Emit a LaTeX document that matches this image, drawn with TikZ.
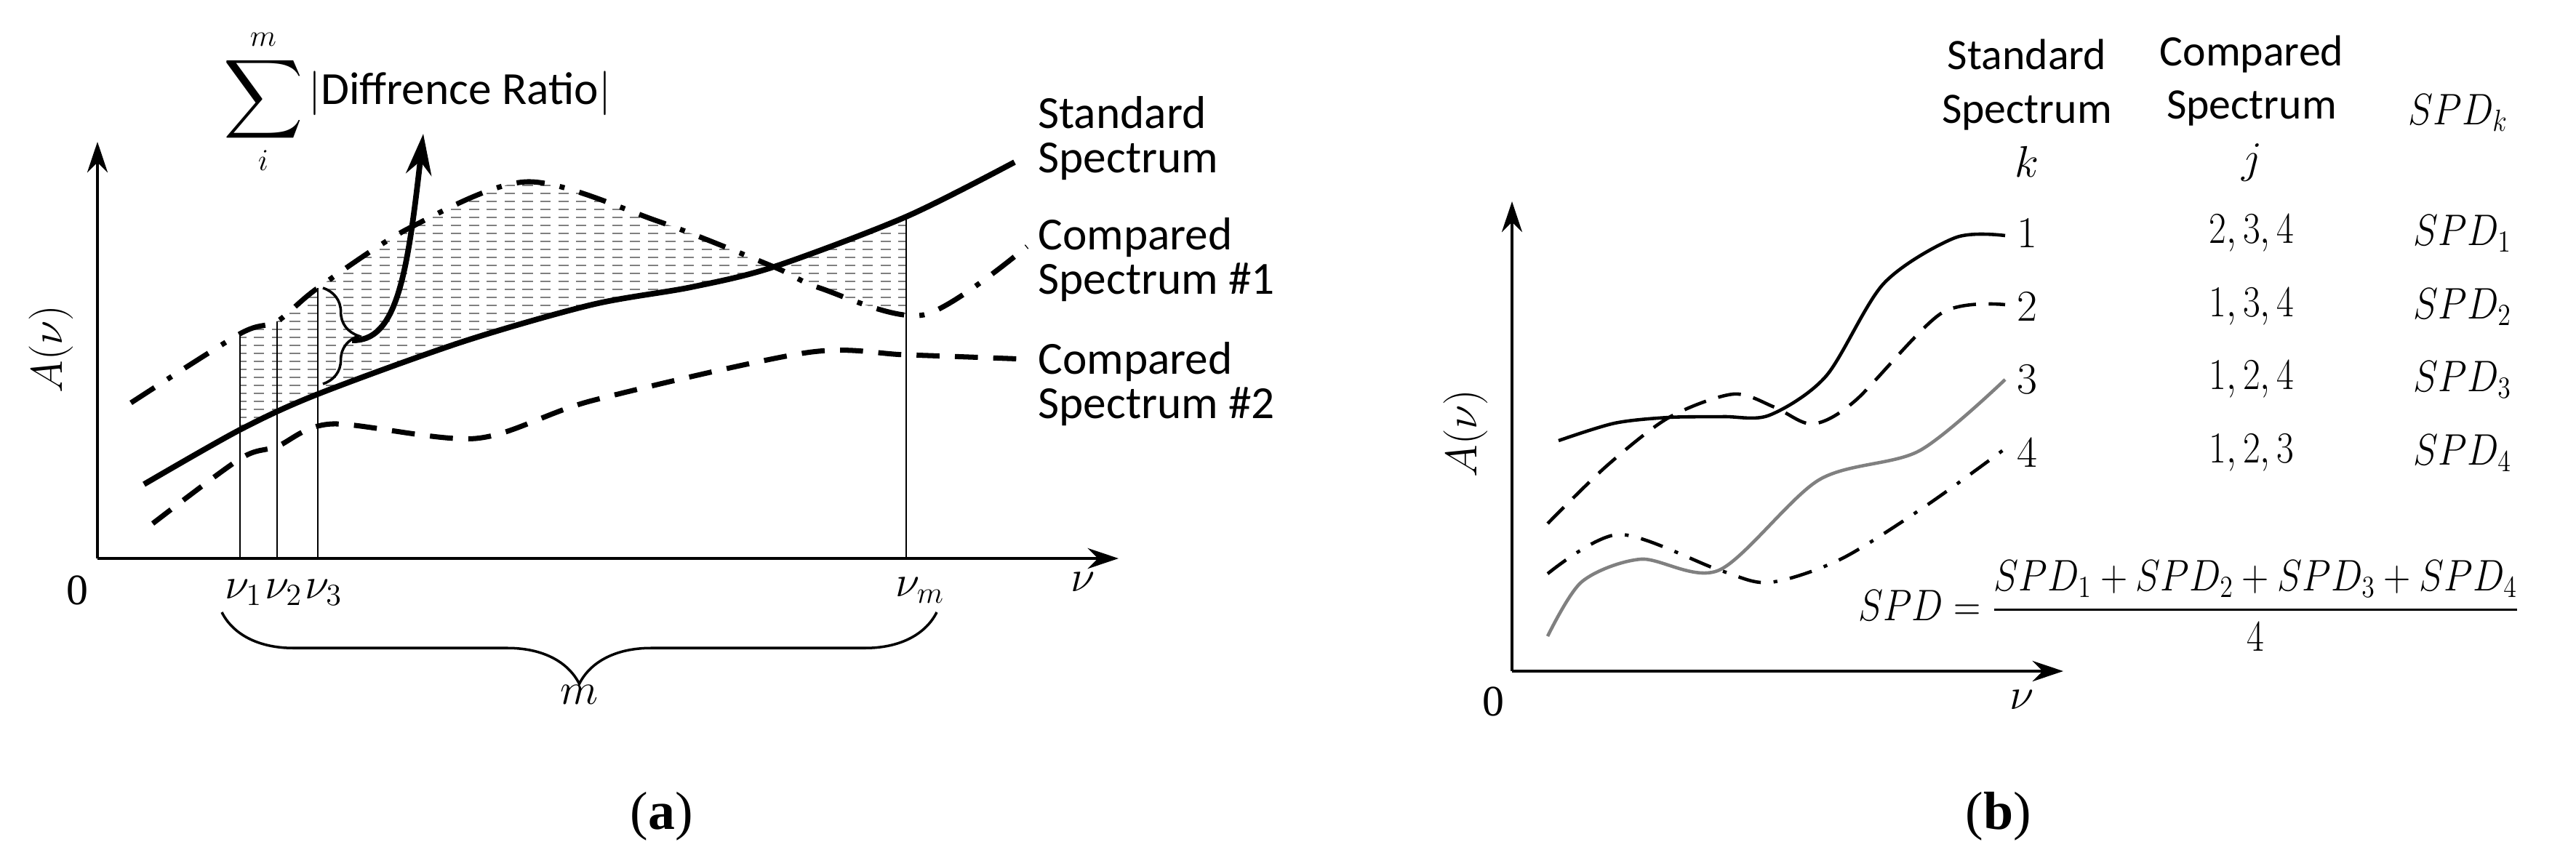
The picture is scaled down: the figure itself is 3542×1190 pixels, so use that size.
\documentclass[tikz,border=0pt]{standalone}
\usepackage{amsmath}
\usepackage{graphicx}
\usepackage{fontspec}
\setmainfont{Carlito}
\newfontfamily\serifnum{Liberation Serif}
\usetikzlibrary{decorations.pathreplacing,arrows.meta}
\tikzset{
 ax/.style={line width=1pt,-{Stealth[length=12pt,width=8pt]}},
 stdline/.style={line width=2.2pt},
 dashdotline/.style={line width=2pt,dash pattern=on 11pt off 6pt on 2pt off 6pt},
 dashline/.style={line width=2pt,dash pattern=on 9pt off 6pt},
 thinv/.style={line width=0.5pt},
 lbl/.style={font=\fontsize{18}{17.5}\selectfont,align=left,anchor=west},
 mlbl/.style={font=\fontsize{17}{20}\selectfont},
 tbl/.style={font=\fontsize{17}{20}\selectfont},
 rline/.style={line width=1.3pt},
}
\newcommand{\cnd}[1]{\scalebox{0.85}[1]{#1}}
\begin{document}
\begin{tikzpicture}[x=0.01cm,y=-0.01cm]
\useasboundingbox (0,0) rectangle (3542,1190);
% ---------- panel (a)
\begin{scope}
\clip (330,0) rectangle (1246,1000);
\begin{scope}[even odd rule]
\clip plot[smooth] coordinates {(180,554)(330,459)(381,442)(437,396)(564,313)(725,250)(904,304)(1064,367)(1127,396)(1270,433)(1412,339)} -- (1412,1000) -- (180,1000) -- cycle
  plot[smooth] coordinates {(198,666)(330,591)(437,542)(636,470)(814,419)(950,395)(1064,367)(1246,298)(1395,223)} -- (1395,1000) -- (198,1000) -- cycle;
\foreach \yy in {200,211,...,700} \draw[gray,line width=0.7pt,dash pattern=on 4pt off 3pt] (300,\yy) -- (1300,\yy);
\end{scope}
\end{scope}
\coordinate (o) at (134,768);
\coordinate (ytop) at (134,195);
\coordinate (xend) at (1538,768);
\draw[ax] (o) -- (ytop);
\draw[ax,line width=1.4pt] (o) -- (xend);
\draw[stdline] plot[smooth] coordinates {(198,666)(330,591)(437,542)(636,470)(814,419)(950,395)(1064,367)(1246,298)(1395,223)};
\draw[dashdotline] plot[smooth] coordinates {(180,554)(330,459)(381,442)(437,396)(564,313)(725,250)(904,304)(1064,367)(1127,396)(1270,433)(1412,339)};
\draw[dashline] plot[smooth] coordinates {(210,720)(330,631)(381,614)(457,583)(654,603)(814,551)(1109,485)(1246,488)(1412,494)};
\draw[thinv] (330,768) -- (330,459);
\draw[thinv] (381,768) -- (381,442);
\draw[thinv] (437,768) -- (437,396);
\draw[thinv] (1246,768) -- (1246,298);
\draw[line width=1pt,decorate,decoration={brace,amplitude=14pt}] (444,396) -- (444,528);
\coordinate (btip) at (484,468);
\coordinate (atip) at (582,184);
\draw[line width=2.2pt,-{Stealth[length=16pt,width=10pt]}] (btip) .. controls (545,470) and (560,380) .. (atip);
\node[font=\fontsize{17}{20}\selectfont] (sig) at (362,140) {$\displaystyle\mathop{\scalebox{1.25}{$\displaystyle\sum$}}_{i}^{m}$};
\node[font=\fontsize{18}{22}\selectfont,anchor=west] (dr) at (412,128) {$\left|\text{Diffrence Ratio}\right|$};
\node[lbl] (l1) at (1415,190) {Standard\\Spectrum};
\node[lbl] (l2) at (1415,357) {Compared\\Spectrum \#1};
\node[lbl] (l3) at (1415,528) {Compared\\Spectrum \#2};
\node[font=\fontsize{18}{22}\selectfont,rotate=90] (ya) at (70,480) {$A(\nu)$};
\node[mlbl] at (106,812) {\serifnum 0};
\node[mlbl] at (335,815) {$\nu_1$};
\node[mlbl] at (390,815) {$\nu_2$};
\node[mlbl] at (445,815) {$\nu_3$};
\node[mlbl] at (1265,812) {$\nu_m$};
\node[mlbl] at (1489,800) {$\nu$};
\draw[line width=1pt,decorate,decoration={brace,amplitude=28pt,mirror}] (305,842) -- (1288,842);
\node[mlbl] at (797,955) {$m$};
\node[font=\fontsize{21}{24}\selectfont\serifnum] at (910,1123) {(\textbf{a})};
% ---------- panel (b)
\coordinate (o2) at (2079,923);
\draw[ax] (o2) -- (2079,277);
\draw[ax,line width=1.4pt] (o2) -- (2837,923);
\draw[rline] plot[smooth] coordinates {(2143,606)(2220,582)(2295,574)(2370,573)(2433,571)(2511,517)(2590,390)(2688,327)(2757,324)};
\draw[rline,dash pattern=on 9pt off 5pt] plot[smooth] coordinates {(2128,720)(2210,640)(2295,574)(2383,542)(2440,560)(2492,583)(2551,551)(2669,431)(2757,419)};
\draw[rline,gray] plot[smooth] coordinates {(2128,875)(2175,800)(2256,769)(2364,784)(2501,660)(2639,620)(2757,522)};
\draw[rline,dash pattern=on 9pt off 5pt on 1.5pt off 5pt] plot[smooth] coordinates {(2128,789)(2226,735)(2364,784)(2433,801)(2531,769)(2649,695)(2757,617)};
\node[font=\fontsize{18}{22}\selectfont,rotate=90] at (2015,596) {$A(\nu)$};
\node[mlbl] at (2053,965) {\serifnum 0};
\node[mlbl] at (2780,962) {$\nu$};
\node[font=\fontsize{17}{21}\selectfont,align=center] (h1) at (2787,149) {Standard\\Spectrum\\$k$};
\node[font=\fontsize{17}{21}\selectfont,align=center] (h2) at (3096,149) {Compared\\Spectrum\\$j$};
\node[tbl] (h3) at (3380,155) {\cnd{$SPD_k$}};
\foreach \k/\j/\yy in {1/{2,3,4}/321,2/{1,3,4}/422,3/{1,2,4}/522,4/{1,2,3}/623}{
  \node[tbl] at (2787,\yy) {$\k$};
  \node[tbl] at (3096,\yy) {\cnd{$\j$}};
  \node[tbl] at (3386,\yy) {\cnd{$SPD_{\k}$}};
}
\node[tbl] (f) at (3010,833) {\cnd{$SPD=\dfrac{SPD_1+SPD_2+SPD_3+SPD_4}{4}$}};
\node[font=\fontsize{21}{24}\selectfont\serifnum] at (2748,1123) {(\textbf{b})};
\end{tikzpicture}
\end{document}
